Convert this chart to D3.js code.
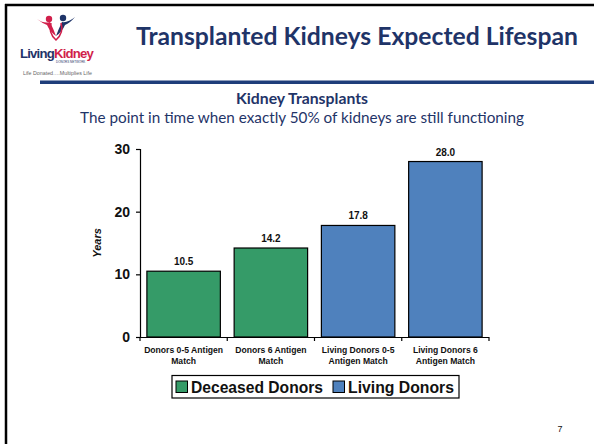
<!DOCTYPE html>
<html><head><meta charset="utf-8">
<script src="https://cdn.jsdelivr.net/npm/d3@7"></script>
<style>body{margin:0;background:#fff}svg{display:block}</style>
</head><body>
<svg id="c" width="594" height="444"></svg>
<script>
const categories = [["Donors 0-5 Antigen","Match"],["Donors 6 Antigen","Match"],["Living Donors 0-5","Antigen Match"],["Living Donors 6","Antigen Match"]];
const values = [10.5, 14.2, 17.8, 28.0];
const groups = ["Deceased Donors","Deceased Donors","Living Donors","Living Donors"];
const legendLabels = ["Deceased Donors","Living Donors"];
const yTicks = [0,10,20,30];

const colors = {"Deceased Donors":"#359B68","Living Donors":"#4F81BD"};
const svg = d3.select("#c");
function fit(sel, w){
  const n = sel.node(); const s = parseFloat(sel.attr("font-size"));
  const cur = n.getComputedTextLength();
  sel.attr("font-size", (s*w/cur).toFixed(2));
  return sel;
}

// slide frame
svg.append("line").attr("x1",5).attr("x2",594).attr("y1",5).attr("y2",5).attr("stroke","#000").attr("stroke-width",2.5);
svg.append("line").attr("x1",6).attr("x2",6).attr("y1",4).attr("y2",444).attr("stroke","#000").attr("stroke-width",2.5);
// blue rule
svg.append("rect").attr("x",40).attr("y",80.5).attr("width",554).attr("height",3.5).attr("fill","#1F3D7A");

// logo
const lg = svg.append("g").attr("transform","translate(20,-2)");
lg.append("path").attr("d","M17,21 Q24,26 30,24 Q33,30 36,38 Q30,34 27,27 Q22,25 17,21Z").attr("fill","#D11F4B");
lg.append("circle").attr("cx",29).attr("cy",21).attr("r",3.2).attr("fill","#D11F4B");
lg.append("path").attr("d","M55,19 Q48,25 42,24 Q39,30 36,38 Q42,34 45,27 Q50,25 55,19Z").attr("fill","#1F3468");
lg.append("circle").attr("cx",43).attr("cy",20).attr("r",3.2).attr("fill","#1F3468");
lg.append("path").attr("d","M31,25 Q28,35 36,42 Q44,35 41,25").attr("fill","none").attr("stroke","#D11F4B").attr("stroke-width",1.6);
const lt = svg.append("text").attr("x",20).attr("y",58).attr("font-family","Liberation Sans, Arial, sans-serif").attr("font-size",13).attr("font-weight","bold").attr("letter-spacing","-0.8");
lt.append("tspan").attr("fill","#1F3468").text("Living");
lt.append("tspan").attr("fill","#D11F4B").text("Kidney");
fit(lt, 73);
svg.append("text").attr("x",56).attr("y",63).attr("font-family","Liberation Sans, Arial, sans-serif").attr("font-size",3).attr("fill","#1F3468").text("DONORS NETWORK");
fit(svg.append("text").attr("x",23).attr("y",74.5).attr("font-family","Liberation Sans, Arial, sans-serif").attr("font-size",4.5).attr("fill","#666").text("Life Donated….Multiplies Life"), 69);

// titles
fit(svg.append("text").attr("x",357).attr("y",44.5).attr("text-anchor","middle")
  .attr("font-family","Lato, sans-serif").attr("font-weight","bold").attr("font-size",24).attr("fill","#1F3468")
  .text("Transplanted Kidneys Expected Lifespan"), 442);
fit(svg.append("text").attr("x",302).attr("y",103.5).attr("text-anchor","middle")
  .attr("font-family","Lato, sans-serif").attr("font-weight","bold").attr("font-size",13).attr("fill","#1F3468")
  .text("Kidney Transplants"), 132);
fit(svg.append("text").attr("x",302).attr("y",122.5).attr("text-anchor","middle")
  .attr("font-family","Lato, sans-serif").attr("font-size",14).attr("fill","#1F3468")
  .text("The point in time when exactly 50% of kidneys are still functioning"), 444);

// chart
const x = d3.scaleBand().domain(d3.range(values.length)).range([140,489]).paddingInner(0.158).paddingOuter(0.079);
const y = d3.scaleLinear().domain([0,30]).range([337,149]);
const font = "Liberation Sans, Arial, sans-serif";

svg.selectAll("rect.bar").data(values).enter().append("rect").attr("class","bar")
  .attr("x",(d,i)=>x(i)).attr("y",d=>y(d)).attr("width",x.bandwidth()).attr("height",d=>y(0)-y(d))
  .attr("fill",(d,i)=>colors[groups[i]]).attr("stroke","#000").attr("stroke-width",1.2);

svg.selectAll("text.val").data(values).enter().append("text").attr("class","val")
  .attr("x",(d,i)=>x(i)+x.bandwidth()/2).attr("y",d=>y(d)-6).attr("text-anchor","middle")
  .attr("font-family",font).attr("font-weight","bold").attr("font-size",10).attr("fill","#111")
  .text(d=>d.toFixed(1));

// y axis
const ya = svg.append("g").attr("transform","translate(140,0)")
  .call(d3.axisLeft(y).tickValues(yTicks).tickSize(4).tickPadding(6).tickFormat(d3.format("d")));
ya.select(".domain").attr("stroke","#000").attr("stroke-width",1.2);
ya.selectAll(".tick line").attr("stroke","#000").attr("stroke-width",1.2);
ya.selectAll(".tick text").attr("font-family",font).attr("font-weight","bold").attr("font-size",14).attr("fill","#111");

// x axis
svg.append("line").attr("x1",140).attr("x2",489).attr("y1",337.5).attr("y2",337.5).attr("stroke","#000").attr("stroke-width",1.2);
const bounds = d3.range(values.length+1).map(i=>140 + i*x.step());
svg.selectAll("line.xt").data(bounds).enter().append("line").attr("class","xt")
  .attr("x1",d=>d).attr("x2",d=>d).attr("y1",337).attr("y2",341).attr("stroke","#000").attr("stroke-width",1.2);

const cl = svg.selectAll("text.cat").data(categories).enter().append("text").attr("class","cat")
  .attr("text-anchor","middle").attr("font-family",font).attr("font-weight","bold").attr("font-size",8.6).attr("fill","#111");
cl.each(function(d,i){
  const t=d3.select(this);
  d.forEach((line,j)=>t.append("tspan").attr("x",x(i)+x.bandwidth()/2).attr("y",353+j*11).text(line));
});

svg.append("text").attr("transform","translate(101,243) rotate(-90)").attr("text-anchor","middle")
  .attr("font-family",font).attr("font-weight","bold").attr("font-style","italic").attr("font-size",11).attr("fill","#111").text("Years");

// legend
svg.append("rect").attr("x",172).attr("y",375.5).attr("width",287).attr("height",22.5).attr("fill","#fff").attr("stroke","#000").attr("stroke-width",1.2);
const legX = [176, 333];
const legW = [132, 106];
legendLabels.forEach((l,i)=>{
  svg.append("rect").attr("x",legX[i]).attr("y",381).attr("width",11.5).attr("height",11.5).attr("fill",colors[l]).attr("stroke","#000").attr("stroke-width",1);
  fit(svg.append("text").attr("x",legX[i]+15).attr("y",392.5).attr("font-family",font).attr("font-weight","bold").attr("font-size",15).attr("fill","#111").text(l), legW[i]);
});

svg.append("text").attr("x",560).attr("y",432).attr("text-anchor","middle").attr("font-family",font).attr("font-size",9).attr("fill","#111").text("7");
</script>
</body></html>
